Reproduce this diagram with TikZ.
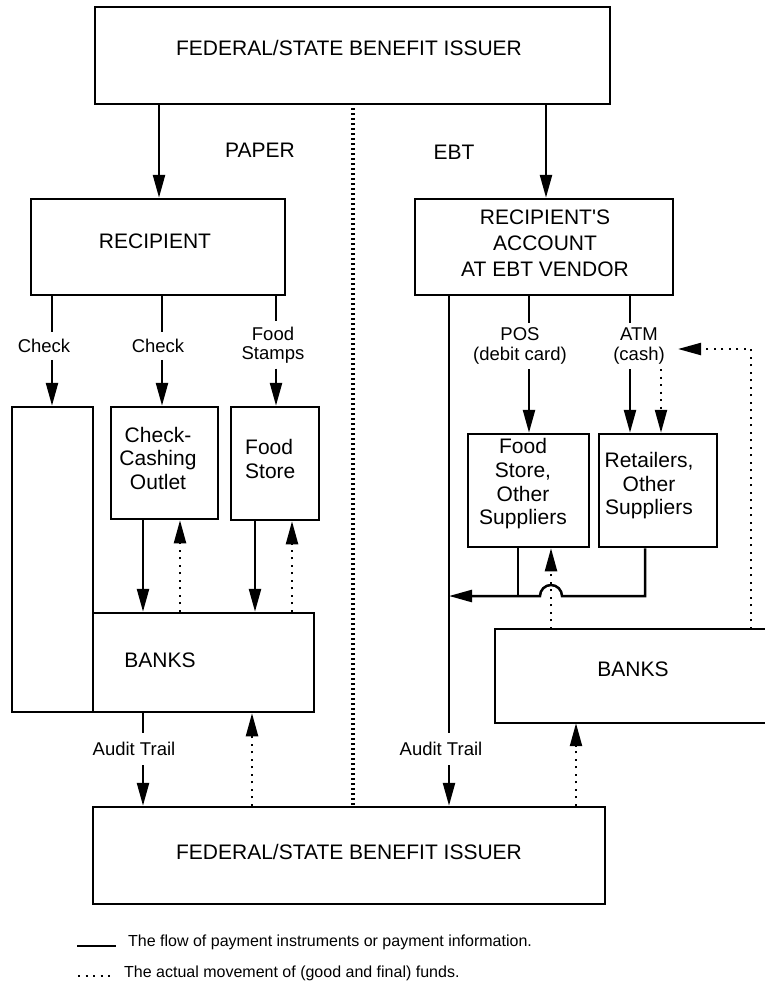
\documentclass[tikz,border=0pt]{standalone}
\usepackage{fontspec}
\setmainfont{Liberation Sans}
\usetikzlibrary{arrows.meta}
\begin{document}
\begin{tikzpicture}[x=1pt,y=-1pt,
  box/.style={draw, line width=2.5pt, inner sep=0pt},
  txt/.style={inner sep=0pt, font=\fontsize{21}{24}\selectfont, align=center},
  lbl/.style={inner xsep=1pt, inner ysep=7pt, font=\fontsize{18.5}{19.5}\selectfont, align=center},
  legtxt/.style={inner sep=0pt, anchor=west, font=\fontsize{16}{18}\selectfont},
  ln/.style={line width=2.5pt},
  arr/.style={line width=2.5pt, -{Triangle[length=23pt,width=12pt]}},
  dot/.style={line width=2.2pt, dash pattern=on 2pt off 5.5pt},
  darr/.style={dot, -{Triangle[length=23pt,width=12pt]}},
  cdot/.style={line width=3.5pt, dash pattern=on 2.2pt off 2.8pt},
]
\path[use as bounding box] (0,0) rectangle (764,985);

% boxes
\node[box, minimum width=515, minimum height=97] (top) at (352.5,55.5) {};
\node[txt] (topT) at (349,48) {FEDERAL/STATE BENEFIT ISSUER};
\node[box, minimum width=254, minimum height=96] (recip) at (158,247) {};
\node[txt] (recipT) at (155,241) {RECIPIENT};
\node[box, minimum width=258, minimum height=96] (acct) at (544,247) {};
\node[txt, font=\fontsize{21}{26}\selectfont] (acctT) at (545,243) {RECIPIENT\textquotesingle S\\ACCOUNT\\AT EBT VENDOR};
\node[box, minimum width=81, minimum height=305] (LT) at (52.5,559.5) {};
\node[box, minimum width=107, minimum height=112] (cco) at (164.5,463) {};
\node[txt, font=\fontsize{21}{23.5}\selectfont] (ccoT) at (158,458) {Check-\\Cashing\\Outlet};
\node[box, minimum width=88, minimum height=113] (fsP) at (275,463.5) {};
\node[txt, anchor=west, align=left] (fsPT) at (245,459) {Food\\Store};
\node[box, minimum width=221, minimum height=99] (banksP) at (203.5,662.5) {};
\node[txt] (banksPT) at (160,660) {BANKS};
\node[box, minimum width=512, minimum height=97] (bottom) at (349,855.5) {};
\node[txt] (bottomT) at (349,852) {FEDERAL/STATE BENEFIT ISSUER};
\node[box, minimum width=121, minimum height=113] (fsE) at (528.5,490.5) {};
\node[txt, font=\fontsize{21}{23.7}\selectfont] (fsET) at (523,484) {Food\\Store,\\Other\\Suppliers};
\node[box, minimum width=118, minimum height=113] (ret) at (658,490.5) {};
\node[txt, font=\fontsize{21}{23.5}\selectfont] (retT) at (649,486) {Retailers,\\Other\\Suppliers};
\node[inner sep=0pt, minimum width=271, minimum height=94] (banksE) at (630.5,676) {};
\draw[line width=2.5pt] (banksE.north east) -- (banksE.north west) -- (banksE.south west) -- (banksE.south east);
\node[txt] (banksET) at (633,669) {BANKS};

\node[txt] (paper) at (260,150) {PAPER};
\node[txt] (ebt) at (454,152) {EBT};

% labels
\node[lbl] (lCk1) at (44,346) {Check};
\node[lbl] (lCk2) at (158,346) {Check};
\node[lbl, inner ysep=5pt] (lFS) at (273,345) {Food\\Stamps};
\node[lbl, inner ysep=5pt] (lPOS) at (520,346) {POS\\(debit card)};
\node[lbl, inner ysep=5pt] (lATM) at (639,346) {ATM\\(cash)};
\node[lbl, inner ysep=9pt] (lAud1) at (134,749) {Audit Trail};
\node[lbl, inner ysep=9pt] (lAud2) at (441,749) {Audit Trail};

% x positions
\coordinate (xA) at (52,0);
\coordinate (xB) at (162,0);
\coordinate (xC) at (276,0);
\coordinate (xD) at (143,0);
\coordinate (xE) at (180,0);
\coordinate (xF) at (255,0);
\coordinate (xG) at (292,0);
\coordinate (xH) at (252,0);
\coordinate (xI) at (449,0);
\coordinate (xJ) at (529,0);
\coordinate (xK) at (630,0);
\coordinate (xL) at (661,0);
\coordinate (xM) at (518,0);
\coordinate (xN) at (645,0);
\coordinate (xO) at (551,0);
\coordinate (xP) at (576,0);
\coordinate (xQ) at (751,0);
\coordinate (xR) at (546,0);
\coordinate (xS) at (159,0);
\coordinate (xCen) at (353,0);
\coordinate (atmIn) at (678,349);
\coordinate (hopR) at (562,596);

% connectors
\draw[arr] (top.south -| xS) -- (recip.north -| xS);
\draw[arr] (top.south -| xR) -- (acct.north -| xR);
\draw[cdot] ([yshift=-3pt]top.south -| xCen) -- (bottom.north -| xCen);

\draw[ln] (recip.south -| xA) -- (xA |- lCk1.north);
\draw[arr] (xA |- lCk1.south) -- (LT.north -| xA);
\draw[ln] (recip.south -| xB) -- (xB |- lCk2.north);
\draw[arr] (xB |- lCk2.south) -- (cco.north -| xB);
\draw[ln] (recip.south -| xC) -- (xC |- lFS.north);
\draw[arr] (xC |- lFS.south) -- (fsP.north -| xC);

\draw[arr] (cco.south -| xD) -- (banksP.north -| xD);
\draw[darr] (banksP.north -| xE) -- (cco.south -| xE);
\draw[arr] (fsP.south -| xF) -- (banksP.north -| xF);
\draw[darr] (banksP.north -| xG) -- (fsP.south -| xG);

\draw[ln] (banksP.south -| xD) -- (xD |- lAud1.north);
\draw[arr] (xD |- lAud1.south) -- (bottom.north -| xD);
\draw[darr] (bottom.north -| xH) -- (banksP.south -| xH);

\draw[ln] (acct.south -| xI) -- (xI |- lAud2.north);
\draw[arr] (xI |- lAud2.south) -- (bottom.north -| xI);

\draw[ln] (acct.south -| xJ) -- (xJ |- lPOS.north);
\draw[arr] (xJ |- lPOS.south) -- (fsE.north -| xJ);
\draw[ln] (acct.south -| xK) -- (xK |- lATM.north);
\draw[arr] (xK |- lATM.south) -- (ret.north -| xK);
\draw[darr] (xL |- lATM.south) -- (ret.north -| xL);
\draw[darr] (banksE.north -| xQ) |- (atmIn);

\draw[ln] (fsE.south -| xM) -- (xM |- hopR);
\draw[arr] (ret.south -| xN) -- (xN |- hopR) -- (hopR) arc[start angle=0, end angle=180, radius=11pt] -- (xI |- hopR);
\draw[darr] (banksE.north -| xO) -- (fsE.south -| xO);
\draw[darr] (bottom.north -| xP) -- (banksE.south -| xP);

% legend
\coordinate (lg1a) at (77,946);
\coordinate (lg1b) at (116,946);
\coordinate (lg2a) at (78,976);
\coordinate (lg2b) at (115,976);
\draw[ln] (lg1a) -- (lg1b);
\draw[dot] (lg2a) -- (lg2b);
\node[legtxt] (leg1) at (128,942) {The flow of payment instruments or payment information.};
\node[legtxt] (leg2) at (124,973) {The actual movement of (good and final) funds.};
\end{tikzpicture}
\end{document}
